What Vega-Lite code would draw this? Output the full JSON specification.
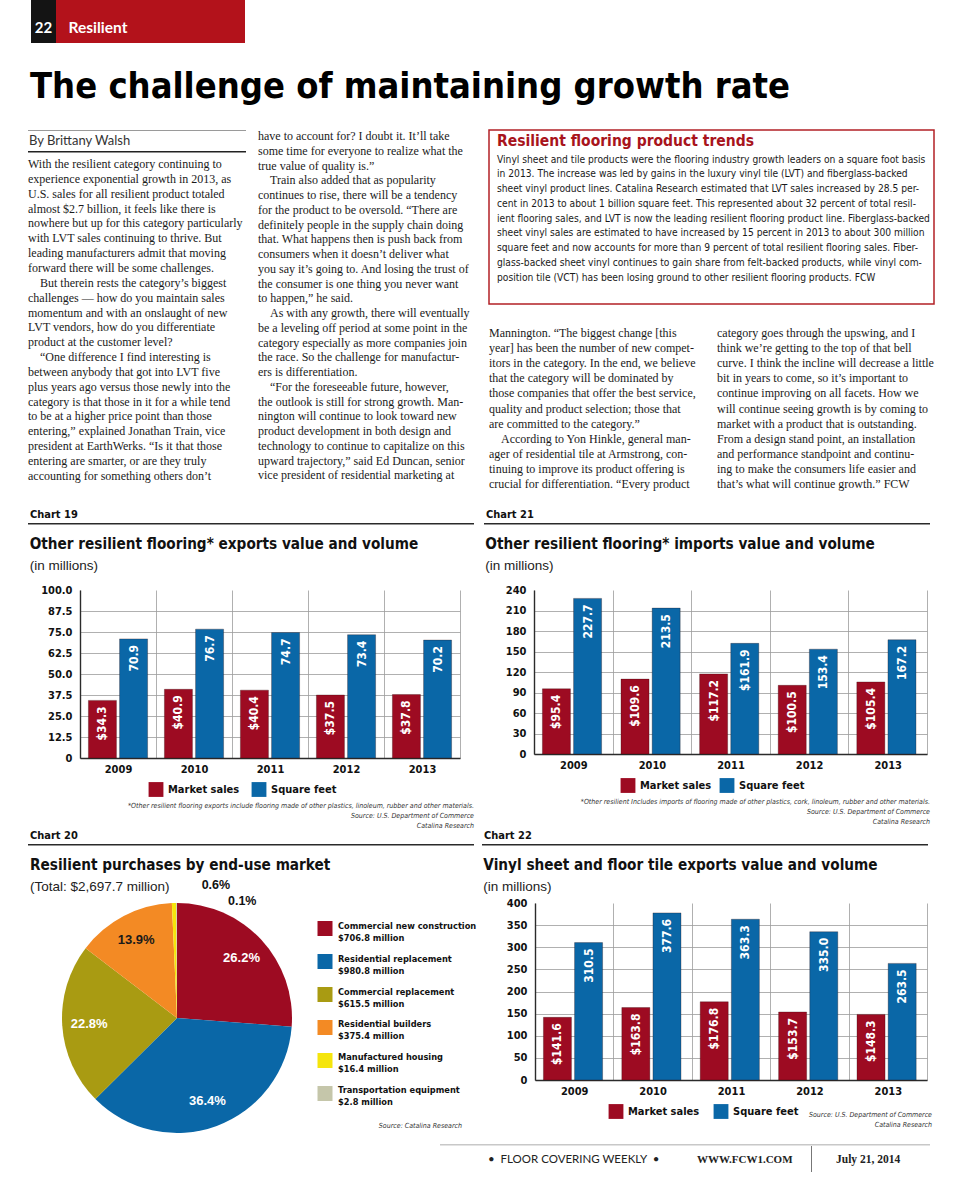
{
"$schema": "https://vega.github.io/schema/vega-lite/v6.json",
"background": "white",
"padding": {"left": 28, "top": 0, "right": 0, "bottom": 0},
"datasets": {
"blank": [{}],
"series": [{"series": "Market sales"}, {"series": "Square feet"}],
"c19": [
{"year": "2009", "series": "Market sales", "value": 34.3, "label": "$34.3"},
{"year": "2009", "series": "Square feet", "value": 70.9, "label": "70.9"},
{"year": "2010", "series": "Market sales", "value": 40.9, "label": "$40.9"},
{"year": "2010", "series": "Square feet", "value": 76.7, "label": "76.7"},
{"year": "2011", "series": "Market sales", "value": 40.4, "label": "$40.4"},
{"year": "2011", "series": "Square feet", "value": 74.7, "label": "74.7"},
{"year": "2012", "series": "Market sales", "value": 37.5, "label": "$37.5"},
{"year": "2012", "series": "Square feet", "value": 73.4, "label": "73.4"},
{"year": "2013", "series": "Market sales", "value": 37.8, "label": "$37.8"},
{"year": "2013", "series": "Square feet", "value": 70.2, "label": "70.2"}
],
"c21": [
{"year": "2009", "series": "Market sales", "value": 95.4, "label": "$95.4"},
{"year": "2009", "series": "Square feet", "value": 227.7, "label": "227.7"},
{"year": "2010", "series": "Market sales", "value": 109.6, "label": "$109.6"},
{"year": "2010", "series": "Square feet", "value": 213.5, "label": "213.5"},
{"year": "2011", "series": "Market sales", "value": 117.2, "label": "$117.2"},
{"year": "2011", "series": "Square feet", "value": 161.9, "label": "$161.9"},
{"year": "2012", "series": "Market sales", "value": 100.5, "label": "$100.5"},
{"year": "2012", "series": "Square feet", "value": 153.4, "label": "153.4"},
{"year": "2013", "series": "Market sales", "value": 105.4, "label": "$105.4"},
{"year": "2013", "series": "Square feet", "value": 167.2, "label": "167.2"}
],
"c22": [
{"year": "2009", "series": "Market sales", "value": 141.6, "label": "$141.6"},
{"year": "2009", "series": "Square feet", "value": 310.5, "label": "310.5"},
{"year": "2010", "series": "Market sales", "value": 163.8, "label": "$163.8"},
{"year": "2010", "series": "Square feet", "value": 377.6, "label": "377.6"},
{"year": "2011", "series": "Market sales", "value": 176.8, "label": "$176.8"},
{"year": "2011", "series": "Square feet", "value": 363.3, "label": "363.3"},
{"year": "2012", "series": "Market sales", "value": 153.7, "label": "$153.7"},
{"year": "2012", "series": "Square feet", "value": 335.0, "label": "335.0"},
{"year": "2013", "series": "Market sales", "value": 148.3, "label": "$148.3"},
{"year": "2013", "series": "Square feet", "value": 263.5, "label": "263.5"}
],
"c20": [
{"seq": 1, "segment": "Commercial new construction", "amount": 706.8, "share": 26.2, "pct": "26.2%", "amountLabel": "$706.8 million"},
{"seq": 2, "segment": "Residential replacement", "amount": 980.8, "share": 36.4, "pct": "36.4%", "amountLabel": "$980.8 million"},
{"seq": 3, "segment": "Commercial replacement", "amount": 615.5, "share": 22.8, "pct": "22.8%", "amountLabel": "$615.5 million"},
{"seq": 4, "segment": "Residential builders", "amount": 375.4, "share": 13.9, "pct": "13.9%", "amountLabel": "$375.4 million"},
{"seq": 5, "segment": "Manufactured housing", "amount": 16.4, "share": 0.6, "pct": "0.6%", "amountLabel": "$16.4 million"},
{"seq": 6, "segment": "Transportation equipment", "amount": 2.8, "share": 0.1, "pct": "0.1%", "amountLabel": "$2.8 million"}
]
},
"config": {
"view": {"stroke": null},
"axis": {"domainColor": "#2b2b2b", "domainWidth": 1.4, "gridColor": "#9c9c9c", "gridWidth": 0.8, "ticks": false, "labelFont": "DejaVu Sans Condensed, DejaVu Sans, sans-serif", "labelFontWeight": "bold", "labelFontSize": 11, "labelColor": "#111"}
},
"resolve": {"scale": {"color": "independent"}, "legend": {"color": "independent"}},
"spacing": 26,
"vconcat": [
{"spacing": 0, "hconcat": [
 {"width": 3, "height": 0.01, "data": {"name": "blank"}, "mark": {"type": "text", "text": "", "fontSize": 0}},
 {"width": 25, "height": 43, "view": {"fill": "#141414", "stroke": null}, "data": {"name": "blank"}, "mark": {"type": "text", "text": "22", "color": "white", "font": "Lato", "fontWeight": "bold", "fontSize": 15, "dy": 6}},
 {"width": 189, "height": 43, "view": {"fill": "#b3121b", "stroke": null}, "data": {"name": "blank"}, "mark": {"type": "text", "text": "Resilient", "align": "left", "dx": -82, "dy": 6, "color": "white", "font": "Lato", "fontWeight": "bold", "fontSize": 15.5}}
]},
{"spacing": 18, "resolve": {"scale": {"color": "independent"}, "legend": {"color": "independent"}}, "vconcat": [
 {"title": {"text": "The challenge of maintaining growth rate", "anchor": "start", "font": "DejaVu Sans Condensed, DejaVu Sans, sans-serif", "fontWeight": "bold", "fontSize": 36, "color": "#000", "offset": 23, "dx": 2},
  "spacing": 12,
  "hconcat": [
  {"spacing": 4, "vconcat": [
   {"width": 218, "height": 1, "view": {"fill": "#9a9a9a", "stroke": null}, "data": {"name": "blank"}, "mark": {"type": "text", "text": "", "fontSize": 0}},
   {"width": 218, "height": 1.6, "view": {"fill": "#222", "stroke": null}, "data": {"name": "blank"}, "mark": {"type": "text", "text": "", "fontSize": 0},
    "title": {"text": "By Brittany Walsh", "anchor": "start", "font": "Lato", "fontWeight": "normal", "fontSize": 13, "color": "#333", "offset": 3, "dx": 1}},
   {"width": 218, "height": 0.01, "data": {"name": "blank"}, "mark": {"type": "text", "text": "", "fontSize": 0},
    "title": {"orient": "bottom", "anchor": "start", "offset": 2, "font": "Liberation Serif, DejaVu Serif, serif", "fontWeight": "normal", "fontSize": 12, "lineHeight": 14.85, "color": "#1a1a1a",
     "text": ["With the resilient category continuing to", "experience exponential growth in 2013, as", "U.S. sales for all resilient product totaled", "almost $2.7 billion, it feels like there is", "nowhere but up for this category particularly", "with LVT sales continuing to thrive. But", "leading manufacturers admit that moving", "forward there will be some challenges.", "\u200b\u00a0\u00a0\u00a0\u00a0But therein rests the category’s biggest", "challenges — how do you maintain sales", "momentum and with an onslaught of new", "LVT vendors, how do you differentiate", "product at the customer level?", "\u200b\u00a0\u00a0\u00a0\u00a0“One difference I find interesting is", "between anybody that got into LVT five", "plus years ago versus those newly into the", "category is that those in it for a while tend", "to be at a higher price point than those", "entering,” explained Jonathan Train, vice", "president at EarthWerks. “Is it that those", "entering are smarter, or are they truly", "accounting for something others don’t"]}}
  ]},
  {"width": 218, "height": 0.01, "data": {"name": "blank"}, "mark": {"type": "text", "text": "", "fontSize": 0},
   "title": {"orient": "bottom", "anchor": "start", "offset": 1, "font": "Liberation Serif, DejaVu Serif, serif", "fontWeight": "normal", "fontSize": 12, "lineHeight": 14.75, "color": "#1a1a1a",
    "text": ["have to account for? I doubt it. It’ll take", "some time for everyone to realize what the", "true value of quality is.”", "\u200b\u00a0\u00a0\u00a0\u00a0Train also added that as popularity", "continues to rise, there will be a tendency", "for the product to be oversold. “There are", "definitely people in the supply chain doing", "that. What happens then is push back from", "consumers when it doesn’t deliver what", "you say it’s going to. And losing the trust of", "the consumer is one thing you never want", "to happen,” he said.", "\u200b\u00a0\u00a0\u00a0\u00a0As with any growth, there will eventually", "be a leveling off period at some point in the", "category especially as more companies join", "the race. So the challenge for manufactur-", "ers is differentiation.", "\u200b\u00a0\u00a0\u00a0\u00a0“For the foreseeable future, however,", "the outlook is still for strong growth. Man-", "nington will continue to look toward new", "product development in both design and", "technology to continue to capitalize on this", "upward trajectory,” said Ed Duncan, senior", "vice president of residential marketing at"]}},
  {"spacing": 22, "vconcat": [
   {"width": 445, "height": 174, "view": {"stroke": "#b32126", "strokeWidth": 1.5}, "data": {"name": "blank"}, "mark": {"type": "text", "text": "", "fontSize": 0},
    "title": {"orient": "bottom", "anchor": "start", "offset": -170, "dx": 8, "text": "Resilient flooring product trends", "font": "DejaVu Sans Condensed, DejaVu Sans, sans-serif", "fontWeight": "bold", "fontSize": 15.5, "color": "#a8141c", "subtitleFont": "DejaVu Sans Condensed, DejaVu Sans, sans-serif", "subtitleFontSize": 10.2, "subtitleLineHeight": 14.75, "subtitleColor": "#1a1a1a", "subtitlePadding": 5,
     "subtitle": ["Vinyl sheet and tile products were the flooring industry growth leaders on a square foot basis", "in 2013.  The increase was led by gains in the luxury vinyl tile (LVT) and fiberglass-backed", "sheet vinyl product lines.  Catalina Research estimated that LVT sales increased by 28.5 per-", "cent in 2013 to about 1 billion square feet.  This represented about 32 percent of total resil-", "ient flooring sales, and LVT is now the leading resilient flooring product line.  Fiberglass-backed", "sheet vinyl sales are estimated to have increased by 15 percent in 2013 to about 300 million", "square feet and now accounts for more than 9 percent of total resilient flooring sales. Fiber-", "glass-backed sheet vinyl continues to gain share from felt-backed products, while vinyl com-", "position tile (VCT) has been losing ground to other resilient flooring products. FCW"]}},
   {"spacing": 12, "hconcat": [
    {"width": 216, "height": 0.01, "data": {"name": "blank"}, "mark": {"type": "text", "text": "", "fontSize": 0},
     "title": {"orient": "bottom", "anchor": "start", "offset": 1, "font": "Liberation Serif, DejaVu Serif, serif", "fontWeight": "normal", "fontSize": 12, "lineHeight": 15.1, "color": "#1a1a1a",
      "text": ["Mannington. “The biggest change [this", "year] has been the number of new compet-", "itors in the category. In the end, we believe", "that the category will be dominated by", "those companies that offer the best service,", "quality and product selection; those that", "are committed to the category.”", "\u200b\u00a0\u00a0\u00a0\u00a0According to Yon Hinkle, general man-", "ager of residential tile at Armstrong, con-", "tinuing to improve its product offering is", "crucial for differentiation. “Every product"]}},
    {"width": 216, "height": 0.01, "data": {"name": "blank"}, "mark": {"type": "text", "text": "", "fontSize": 0},
     "title": {"orient": "bottom", "anchor": "start", "offset": 1, "font": "Liberation Serif, DejaVu Serif, serif", "fontWeight": "normal", "fontSize": 12, "lineHeight": 15.1, "color": "#1a1a1a",
      "text": ["category goes through the upswing, and I", "think we’re getting to the top of that bell", "curve. I think the incline will decrease a little", "bit in years to come, so it’s important to", "continue improving on all facets. How we", "will continue seeing growth is by coming to", "market with a product that is outstanding.", "From a design stand point, an installation", "and performance standpoint and continu-", "ing to make the consumers life easier and", "that’s what will continue growth.” FCW"]}}
   ]}
  ]}
 ]},
 {"spacing": 0, "resolve": {"scale": {"color": "independent"}, "legend": {"color": "independent"}}, "vconcat": [
  {"spacing": 10, "resolve": {"scale": {"color": "independent"}, "legend": {"color": "independent"}}, "hconcat": [
   {"spacing": 12, "resolve": {"scale": {"color": "independent"}, "legend": {"color": "independent"}}, "vconcat": [
    {"width": 446, "height": 1.6, "view": {"fill": "#2a2a2a", "stroke": null}, "data": {"name": "blank"}, "mark": {"type": "text", "text": "", "fontSize": 0},
     "title": {"text": "Chart 19", "anchor": "start", "font": "DejaVu Sans Condensed, DejaVu Sans, sans-serif", "fontWeight": "bold", "fontSize": 11, "color": "#111", "offset": 3, "dx": 2}},
    {"spacing": 8, "resolve": {"scale": {"color": "independent"}, "legend": {"color": "independent"}}, "vconcat": [
     {"spacing": 0, "resolve": {"scale": {"color": "independent"}, "legend": {"color": "independent"}}, "hconcat": [
      {"width": 0.01, "height": 0.01, "data": {"name": "blank"}, "mark": {"type": "text", "text": "", "fontSize": 0}},
      {"width": 380, "height": 168, "data": {"name": "c19"},
       "title": {"text": "Other resilient flooring* exports value and volume", "subtitle": "(in millions)", "anchor": "start", "frame": "bounds", "dx": -11, "offset": 12, "font": "DejaVu Sans Condensed, DejaVu Sans, sans-serif", "fontSize": 15.2, "fontWeight": "bold", "color": "#111", "subtitleFont": "Liberation Sans, Arial, sans-serif", "subtitleFontSize": 13.5, "subtitleColor": "#222", "subtitlePadding": 6},
       "encoding": {
        "x": {"field": "year", "type": "ordinal", "title": null, "scale": {"paddingInner": 0, "paddingOuter": 0}, "axis": {"labelAngle": 0, "tickBand": "extent", "grid": true, "labelPadding": 5}},
        "xOffset": {"field": "series", "type": "nominal", "sort": ["Market sales", "Square feet"], "scale": {"paddingInner": 0.1, "paddingOuter": 0.27}},
        "y": {"field": "value", "type": "quantitative", "title": null, "scale": {"domain": [0, 100], "nice": false}, "axis": {"values": [0, 12.5, 25, 37.5, 50, 62.5, 75, 87.5, 100], "format": ".1f", "labelExpr": "datum.value === 0 ? '0' : datum.label", "labelPadding": 8, "gridOpacity": {"condition": {"test": "datum.value === 100", "value": 0}, "value": 1}}}
       },
       "layer": [
        {"mark": {"type": "bar", "stroke": "#2a0a0a", "strokeWidth": 0.5, "strokeOpacity": 0.6}, "encoding": {"color": {"field": "series", "type": "nominal", "scale": {"domain": ["Market sales", "Square feet"], "range": ["#9d0b22", "#0a67a7"]}, "legend": null}}},
        {"mark": {"type": "text", "angle": 270, "align": "right", "baseline": "middle", "dx": -6, "color": "white", "font": "DejaVu Sans Condensed, DejaVu Sans, sans-serif", "fontWeight": "bold", "fontSize": 12}, "encoding": {"text": {"field": "label"}}}
       ]}
     ]},
     {"spacing": 5, "resolve": {"scale": {"color": "independent"}, "legend": {"color": "independent"}}, "vconcat": [
      {"spacing": 0, "hconcat": [
       {"width": 120, "height": 0.01, "data": {"name": "blank"}, "mark": {"type": "text", "text": "", "fontSize": 0}},
       {"width": 103, "height": 15, "data": {"name": "series"},
        "encoding": {"x": {"field": "series", "type": "nominal", "sort": ["Market sales", "Square feet"], "axis": null, "scale": {"type": "point", "padding": 0}}},
        "layer": [
         {"mark": {"type": "square", "size": 220, "filled": true, "opacity": 1}, "encoding": {"color": {"field": "series", "type": "nominal", "scale": {"domain": ["Market sales", "Square feet"], "range": ["#9d0b22", "#0a67a7"]}, "legend": null}}},
         {"mark": {"type": "text", "align": "left", "baseline": "middle", "dx": 12, "font": "DejaVu Sans Condensed, DejaVu Sans, sans-serif", "fontWeight": "bold", "fontSize": 11, "color": "#111"}, "encoding": {"text": {"field": "series"}}}
        ]}
      ]},
      {"width": 446, "height": 0.01, "data": {"name": "blank"}, "mark": {"type": "text", "text": "", "fontSize": 0},
       "title": {"orient": "bottom", "anchor": "end", "offset": 0, "font": "DejaVu Sans Condensed, DejaVu Sans, sans-serif", "fontStyle": "italic", "fontWeight": "normal", "fontSize": 7, "lineHeight": 10, "color": "#333",
        "text": ["*Other resilient flooring exports include flooring made of other plastics, linoleum, rubber and other materials.", "Source: U.S. Department of Commerce", "Catalina Research"]}}
     ]}
    ]}
   ]},
   {"spacing": 12, "resolve": {"scale": {"color": "independent"}, "legend": {"color": "independent"}}, "vconcat": [
    {"width": 446, "height": 1.6, "view": {"fill": "#2a2a2a", "stroke": null}, "data": {"name": "blank"}, "mark": {"type": "text", "text": "", "fontSize": 0},
     "title": {"text": "Chart 21", "anchor": "start", "font": "DejaVu Sans Condensed, DejaVu Sans, sans-serif", "fontWeight": "bold", "fontSize": 11, "color": "#111", "offset": 3, "dx": 2}},
    {"spacing": 8, "resolve": {"scale": {"color": "independent"}, "legend": {"color": "independent"}}, "vconcat": [
     {"spacing": 0, "resolve": {"scale": {"color": "independent"}, "legend": {"color": "independent"}}, "hconcat": [
      {"width": 0.01, "height": 0.01, "data": {"name": "blank"}, "mark": {"type": "text", "text": "", "fontSize": 0}},
      {"width": 393, "height": 164, "data": {"name": "c21"},
       "title": {"text": "Other resilient flooring* imports value and volume", "subtitle": "(in millions)", "anchor": "start", "frame": "bounds", "dx": -20, "offset": 12, "font": "DejaVu Sans Condensed, DejaVu Sans, sans-serif", "fontSize": 15.2, "fontWeight": "bold", "color": "#111", "subtitleFont": "Liberation Sans, Arial, sans-serif", "subtitleFontSize": 13.5, "subtitleColor": "#222", "subtitlePadding": 6},
       "encoding": {
        "x": {"field": "year", "type": "ordinal", "title": null, "scale": {"paddingInner": 0, "paddingOuter": 0}, "axis": {"labelAngle": 0, "tickBand": "extent", "grid": true, "labelPadding": 5}},
        "xOffset": {"field": "series", "type": "nominal", "sort": ["Market sales", "Square feet"], "scale": {"paddingInner": 0.1, "paddingOuter": 0.3}},
        "y": {"field": "value", "type": "quantitative", "title": null, "scale": {"domain": [0, 240], "nice": false}, "axis": {"values": [0, 30, 60, 90, 120, 150, 180, 210, 240], "labelPadding": 8, "gridOpacity": {"condition": {"test": "datum.value === 240", "value": 0}, "value": 1}}}
       },
       "layer": [
        {"mark": {"type": "bar", "stroke": "#2a0a0a", "strokeWidth": 0.5, "strokeOpacity": 0.6}, "encoding": {"color": {"field": "series", "type": "nominal", "scale": {"domain": ["Market sales", "Square feet"], "range": ["#9d0b22", "#0a67a7"]}, "legend": null}}},
        {"mark": {"type": "text", "angle": 270, "align": "right", "baseline": "middle", "dx": -6, "color": "white", "font": "DejaVu Sans Condensed, DejaVu Sans, sans-serif", "fontWeight": "bold", "fontSize": 12}, "encoding": {"text": {"field": "label"}}}
       ]}
     ]},
     {"spacing": 5, "resolve": {"scale": {"color": "independent"}, "legend": {"color": "independent"}}, "vconcat": [
      {"spacing": 0, "hconcat": [
       {"width": 136, "height": 0.01, "data": {"name": "blank"}, "mark": {"type": "text", "text": "", "fontSize": 0}},
       {"width": 99, "height": 15, "data": {"name": "series"},
        "encoding": {"x": {"field": "series", "type": "nominal", "sort": ["Market sales", "Square feet"], "axis": null, "scale": {"type": "point", "padding": 0}}},
        "layer": [
         {"mark": {"type": "square", "size": 220, "filled": true, "opacity": 1}, "encoding": {"color": {"field": "series", "type": "nominal", "scale": {"domain": ["Market sales", "Square feet"], "range": ["#9d0b22", "#0a67a7"]}, "legend": null}}},
         {"mark": {"type": "text", "align": "left", "baseline": "middle", "dx": 12, "font": "DejaVu Sans Condensed, DejaVu Sans, sans-serif", "fontWeight": "bold", "fontSize": 11, "color": "#111"}, "encoding": {"text": {"field": "series"}}}
        ]}
      ]},
      {"width": 446, "height": 0.01, "data": {"name": "blank"}, "mark": {"type": "text", "text": "", "fontSize": 0},
       "title": {"orient": "bottom", "anchor": "end", "offset": 0, "font": "DejaVu Sans Condensed, DejaVu Sans, sans-serif", "fontStyle": "italic", "fontWeight": "normal", "fontSize": 7, "lineHeight": 10, "color": "#333",
        "text": ["*Other resilient Includes imports of flooring made of other plastics, cork, linoleum, rubber and other materials.", "Source: U.S. Department of Commerce", "Catalina Research"]}}
     ]}
    ]}
   ]}
  ]},
  {"spacing": 11, "resolve": {"scale": {"color": "independent"}, "legend": {"color": "independent"}}, "vconcat": [
   {"spacing": 5, "resolve": {"scale": {"color": "independent"}, "legend": {"color": "independent"}}, "hconcat": [
    {"spacing": 12, "resolve": {"scale": {"color": "independent"}, "legend": {"color": "independent"}}, "vconcat": [
     {"width": 446, "height": 1.6, "view": {"fill": "#2a2a2a", "stroke": null}, "data": {"name": "blank"}, "mark": {"type": "text", "text": "", "fontSize": 0},
      "title": {"text": "Chart 20", "anchor": "start", "font": "DejaVu Sans Condensed, DejaVu Sans, sans-serif", "fontWeight": "bold", "fontSize": 11, "color": "#111", "offset": 3, "dx": 2}},
     {"title": {"text": "Resilient purchases by end-use market", "subtitle": "(Total: $2,697.7 million)", "anchor": "start", "dx": 2, "offset": -14, "font": "DejaVu Sans Condensed, DejaVu Sans, sans-serif", "fontSize": 15.2, "fontWeight": "bold", "color": "#111", "subtitleFont": "Liberation Sans, Arial, sans-serif", "subtitleFontSize": 13.5, "subtitleColor": "#222", "subtitlePadding": 6},
      "spacing": 25, "resolve": {"scale": {"color": "independent"}, "legend": {"color": "independent"}}, "hconcat": [
      {"spacing": 0, "resolve": {"scale": {"color": "independent"}, "legend": {"color": "independent"}}, "hconcat": [
       {"width": 34, "height": 0.01, "data": {"name": "blank"}, "mark": {"type": "text", "text": "", "fontSize": 0}},
       {"width": 230, "height": 230, "data": {"name": "c20"},
        "layer": [
         {"mark": {"type": "arc"}, "encoding": {
          "theta": {"field": "amount", "type": "quantitative", "stack": true},
          "order": {"field": "seq", "type": "quantitative"},
          "color": {"field": "segment", "type": "nominal", "sort": null, "scale": {"range": ["#9d0b22", "#0a67a7", "#a99b12", "#f38a24", "#f5e50c", "#c5c6aa"]}, "legend": null}}},
         {"mark": {"type": "text", "radius": 88, "font": "Liberation Sans, Arial, sans-serif", "fontWeight": "bold", "fontSize": 13}, "encoding": {
          "theta": {"field": "amount", "type": "quantitative", "stack": true},
          "order": {"field": "seq", "type": "quantitative"},
          "text": {"condition": {"test": "datum.share > 5", "field": "pct"}, "value": ""},
          "color": {"condition": {"test": "datum.seq === 4", "value": "#1a1a1a"}, "value": "white"}}},
         {"transform": [{"stack": "amount", "groupby": [], "sort": [{"field": "seq", "order": "ascending"}], "as": ["t0", "t1"]}, {"filter": "datum.seq === 5"}],
          "mark": {"type": "text", "radius": 136, "dx": 45, "dy": 3, "font": "Liberation Sans, Arial, sans-serif", "fontWeight": "bold", "fontSize": 12.5, "color": "#111"},
          "encoding": {"theta": {"field": "t0", "type": "quantitative", "stack": null}, "text": {"field": "pct"}}},
         {"transform": [{"stack": "amount", "groupby": [], "sort": [{"field": "seq", "order": "ascending"}], "as": ["t0", "t1"]}, {"filter": "datum.seq === 6"}],
          "mark": {"type": "text", "radius": 118, "dx": 66, "dy": 1, "font": "Liberation Sans, Arial, sans-serif", "fontWeight": "bold", "fontSize": 12.5, "color": "#111"},
          "encoding": {"theta": {"field": "t0", "type": "quantitative", "stack": null}, "text": {"field": "pct"}}}
        ]}
      ]},
      {"spacing": 3, "resolve": {"scale": {"color": "independent"}, "legend": {"color": "independent"}}, "vconcat": [
       {"width": 0.01, "height": 216, "data": {"name": "c20"},
        "encoding": {"y": {"field": "segment", "type": "nominal", "sort": null, "axis": null, "scale": {"type": "point", "padding": 0.773}}},
        "layer": [
         {"mark": {"type": "square", "size": 225, "filled": true, "opacity": 1}, "encoding": {"color": {"field": "segment", "type": "nominal", "sort": null, "scale": {"range": ["#9d0b22", "#0a67a7", "#a99b12", "#f38a24", "#f5e50c", "#c5c6aa"]}, "legend": null}}},
         {"mark": {"type": "text", "align": "left", "baseline": "middle", "dx": 13, "dy": -3, "font": "DejaVu Sans Condensed, DejaVu Sans, sans-serif", "fontWeight": "bold", "fontSize": 9.2, "color": "#111"}, "encoding": {"text": {"field": "segment"}}},
         {"mark": {"type": "text", "align": "left", "baseline": "middle", "dx": 13, "dy": 9, "font": "DejaVu Sans Condensed, DejaVu Sans, sans-serif", "fontWeight": "bold", "fontSize": 9.2, "color": "#111"}, "encoding": {"text": {"field": "amountLabel"}}}
        ]},
       {"width": 137, "height": 0.01, "data": {"name": "blank"}, "mark": {"type": "text", "text": "", "fontSize": 0},
        "title": {"orient": "bottom", "anchor": "end", "offset": 0, "font": "DejaVu Sans Condensed, DejaVu Sans, sans-serif", "fontStyle": "italic", "fontWeight": "normal", "fontSize": 7, "lineHeight": 10, "color": "#333", "text": "Source: Catalina Research"}}
      ]}
     ]}
    ]},
    {"spacing": 12, "resolve": {"scale": {"color": "independent"}, "legend": {"color": "independent"}}, "vconcat": [
     {"width": 446, "height": 1.6, "view": {"fill": "#2a2a2a", "stroke": null}, "data": {"name": "blank"}, "mark": {"type": "text", "text": "", "fontSize": 0},
      "title": {"text": "Chart 22", "anchor": "start", "font": "DejaVu Sans Condensed, DejaVu Sans, sans-serif", "fontWeight": "bold", "fontSize": 11, "color": "#111", "offset": 3, "dx": 2}},
     {"spacing": 8, "resolve": {"scale": {"color": "independent"}, "legend": {"color": "independent"}}, "vconcat": [
      {"spacing": 0, "resolve": {"scale": {"color": "independent"}, "legend": {"color": "independent"}}, "hconcat": [
       {"width": 0.01, "height": 0.01, "data": {"name": "blank"}, "mark": {"type": "text", "text": "", "fontSize": 0}},
       {"width": 392, "height": 177, "data": {"name": "c22"},
        "title": {"text": "Vinyl sheet and floor tile exports value and volume", "subtitle": "(in millions)", "anchor": "start", "frame": "bounds", "dx": -23, "offset": 4, "font": "DejaVu Sans Condensed, DejaVu Sans, sans-serif", "fontSize": 15.2, "fontWeight": "bold", "color": "#111", "subtitleFont": "Liberation Sans, Arial, sans-serif", "subtitleFontSize": 13.5, "subtitleColor": "#222", "subtitlePadding": 6},
        "encoding": {
         "x": {"field": "year", "type": "ordinal", "title": null, "scale": {"paddingInner": 0, "paddingOuter": 0}, "axis": {"labelAngle": 0, "tickBand": "extent", "grid": true, "labelPadding": 5}},
         "xOffset": {"field": "series", "type": "nominal", "sort": ["Market sales", "Square feet"], "scale": {"paddingInner": 0.1, "paddingOuter": 0.3}},
         "y": {"field": "value", "type": "quantitative", "title": null, "scale": {"domain": [0, 400], "nice": false}, "axis": {"values": [0, 50, 100, 150, 200, 250, 300, 350, 400], "labelPadding": 8, "gridOpacity": {"condition": {"test": "datum.value === 400", "value": 0}, "value": 1}}}
        },
        "layer": [
         {"mark": {"type": "bar", "stroke": "#2a0a0a", "strokeWidth": 0.5, "strokeOpacity": 0.6}, "encoding": {"color": {"field": "series", "type": "nominal", "scale": {"domain": ["Market sales", "Square feet"], "range": ["#9d0b22", "#0a67a7"]}, "legend": null}}},
         {"mark": {"type": "text", "angle": 270, "align": "right", "baseline": "middle", "dx": -6, "color": "white", "font": "DejaVu Sans Condensed, DejaVu Sans, sans-serif", "fontWeight": "bold", "fontSize": 12}, "encoding": {"text": {"field": "label"}}}
        ]}
      ]},
      {"spacing": 10, "resolve": {"scale": {"color": "independent"}, "legend": {"color": "independent"}}, "hconcat": [
       {"spacing": 0, "hconcat": [
        {"width": 126, "height": 0.01, "data": {"name": "blank"}, "mark": {"type": "text", "text": "", "fontSize": 0}},
        {"width": 105, "height": 15, "data": {"name": "series"},
         "encoding": {"x": {"field": "series", "type": "nominal", "sort": ["Market sales", "Square feet"], "axis": null, "scale": {"type": "point", "padding": 0}}},
         "layer": [
          {"mark": {"type": "square", "size": 220, "filled": true, "opacity": 1}, "encoding": {"color": {"field": "series", "type": "nominal", "scale": {"domain": ["Market sales", "Square feet"], "range": ["#9d0b22", "#0a67a7"]}, "legend": null}}},
          {"mark": {"type": "text", "align": "left", "baseline": "middle", "dx": 12, "font": "DejaVu Sans Condensed, DejaVu Sans, sans-serif", "fontWeight": "bold", "fontSize": 11, "color": "#111"}, "encoding": {"text": {"field": "series"}}}
         ]}
       ]},
       {"width": 122, "height": 0.01, "data": {"name": "blank"}, "mark": {"type": "text", "text": "", "fontSize": 0},
        "title": {"orient": "bottom", "anchor": "end", "offset": 7, "font": "DejaVu Sans Condensed, DejaVu Sans, sans-serif", "fontStyle": "italic", "fontWeight": "normal", "fontSize": 7, "lineHeight": 10, "color": "#333", "text": ["Source: U.S. Department of Commerce", "Catalina Research"]}}
      ]}
     ]}
    ]}
   ]},
   {"spacing": 0, "hconcat": [
    {"width": 412, "height": 0.01, "data": {"name": "blank"}, "mark": {"type": "text", "text": "", "fontSize": 0}},
    {"spacing": 0, "vconcat": [
     {"width": 490, "height": 1.5, "view": {"fill": "#c8c8c8", "stroke": null}, "data": {"name": "blank"}, "mark": {"type": "text", "text": "", "fontSize": 0}},
     {"spacing": 37, "hconcat": [
      {"width": 0.01, "height": 0.01, "data": {"name": "blank"}, "mark": {"type": "text", "text": "", "fontSize": 0},
       "title": {"text": "•\u00a0\u00a0FLOOR COVERING WEEKLY\u00a0\u00a0•", "orient": "bottom", "anchor": "start", "dx": 48, "offset": 8, "font": "Lato", "fontWeight": "normal", "fontSize": 11.5, "color": "#222"}},
      {"spacing": 18, "hconcat": [
       {"width": 0.01, "height": 0.01, "data": {"name": "blank"}, "mark": {"type": "text", "text": "", "fontSize": 0},
        "title": {"text": "WWW.FCW1.COM", "orient": "bottom", "anchor": "start", "offset": 8, "font": "Liberation Serif, serif", "fontWeight": "bold", "fontSize": 11, "color": "#222"}},
       {"spacing": 24, "hconcat": [
        {"width": 1, "height": 26, "view": {"fill": "#777", "stroke": null}, "data": {"name": "blank"}, "mark": {"type": "text", "text": "", "fontSize": 0}},
        {"width": 0.01, "height": 0.01, "data": {"name": "blank"}, "mark": {"type": "text", "text": "", "fontSize": 0},
         "title": {"text": "July 21, 2014", "orient": "bottom", "anchor": "start", "offset": 8, "font": "Liberation Serif, serif", "fontWeight": "bold", "fontSize": 11.5, "color": "#222"}}
       ]}
      ]}
     ]}
    ]}
   ]}
  ]}
 ]}
]}
]
}
